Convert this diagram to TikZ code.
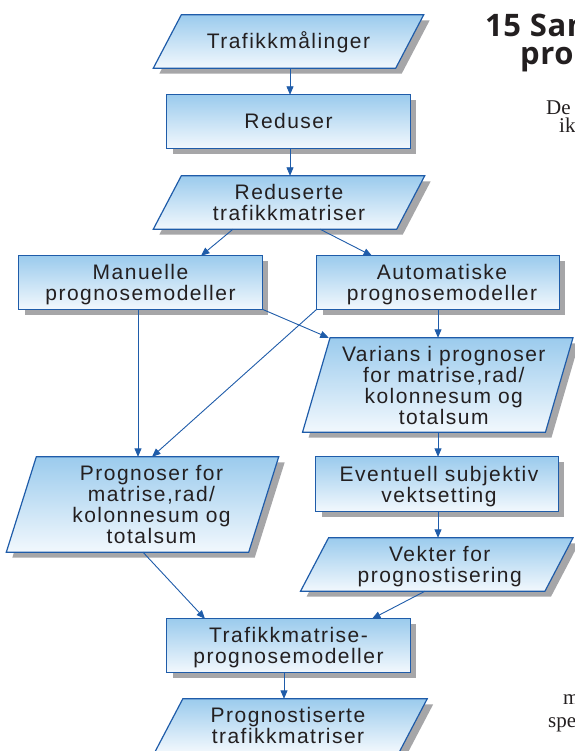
\documentclass[tikz,border=0pt]{standalone}
\usepackage{fontspec}
\setmainfont{Liberation Sans}[LetterSpace=7,WordSpace=1.25]
\newfontfamily\headfont{Open Sans}[LetterSpace=2]
\newfontfamily\pagefont{Liberation Serif}
\usetikzlibrary{arrows.meta}
\pgfdeclarelayer{background}
\pgfsetlayers{background,main}

\definecolor{boxline}{RGB}{31,92,169}
\definecolor{boxtop}{RGB}{155,203,237}
\definecolor{boxbottom}{RGB}{242,248,253}
\definecolor{boxshade}{RGB}{166,166,168}
\definecolor{ink}{RGB}{35,31,32}

\tikzset{
  flowlabel/.style={inner sep=0pt, text width=240pt, align=center, text=ink,
    font=\fontsize{21}{21}\selectfont, text height=15pt, text depth=0pt},
  boxframe/.style={draw=boxline, line width=1.2pt, top color=boxtop, bottom color=boxbottom},
  boxshadow/.style={fill=boxshade},
  flowarrow/.style={draw=boxline, line width=0.9pt, -{Triangle[length=8.5pt,width=7pt]}},
  headtext/.style={anchor=base west, inner sep=0pt, text=ink,
    font=\headfont\bfseries\fontsize{31}{31}\selectfont},
  pagetext/.style={anchor=base west, inner sep=0pt, text=ink,
    font=\pagefont\fontsize{21}{21}\selectfont},
}

% #1 name, #2 slant (0 = rectangle), #3 cx, #4 cy, #5 mean width, #6 height,
% #7 extra label options, #8 label
\newcommand\flowbox[8]{%
  \node[minimum width=#5, minimum height=#6, inner sep=0pt] (#1) at (#3,#4) {};
  \begin{pgfonlayer}{background}
    \path[boxshadow]
      ([shift={(#2/2+6,5.5)}]#1.north west) -- ([shift={(#2/2+6,5.5)}]#1.north east)
      -- ([shift={(-#2/2+6,5.5)}]#1.south east) -- ([shift={(-#2/2+6,5.5)}]#1.south west) -- cycle;
    \path[boxframe]
      ([shift={(#2/2,0)}]#1.north west) -- ([shift={(#2/2,0)}]#1.north east)
      -- ([shift={(-#2/2,0)}]#1.south east) -- ([shift={(-#2/2,0)}]#1.south west) -- cycle;
  \end{pgfonlayer}
  \node[flowlabel, #7] (#1-text) at (#1.center) {#8};
}

\begin{document}
\begin{tikzpicture}[x=1pt, y=-1pt]
  \useasboundingbox (0,0) rectangle (574,751);

  % boxes of the flow
  \flowbox{tm}{28}{288.5}{41.5}{242}{53}{}{Trafikkmålinger}
  \flowbox{red}{0}{288.5}{121.5}{243}{53}{}{Reduser}
  \flowbox{rtm}{28}{289}{202.5}{243}{53}{text depth=21pt}{Reduserte\\trafikkmatriser}
  \flowbox{man}{0}{140.5}{282.5}{243}{53}{text depth=21pt}{Manuelle\\prognosemodeller}
  \flowbox{aut}{0}{438}{282.5}{242}{53}{text depth=21pt, xshift=4}{Automatiske\\prognosemodeller}
  \flowbox{var}{27.5}{437.75}{385}{242.5}{94}{text depth=63pt, xshift=6}{Varians i prognoser\\for matrise,rad/\\kolonnesum og\\totalsum}
  \flowbox{evt}{0}{437}{484}{242}{54}{text depth=21pt, xshift=2}{Eventuell subjektiv\\vektsetting}
  \flowbox{vek}{28}{436.75}{564.5}{244}{53}{text depth=21pt, xshift=3}{Vekter for\\prognostisering}
  \flowbox{prg}{30}{142.5}{504.5}{242}{95}{text depth=63pt, xshift=9}{Prognoser for\\matrise,rad/\\kolonnesum og\\totalsum}
  \flowbox{tmp}{0}{288.5}{645.5}{243}{53}{text depth=21pt}{Trafikkmatrise-\\prognosemodeller}
  \flowbox{ptm}{28}{291}{725.5}{244}{53}{text depth=21pt, xshift=-3}{Prognostiserte\\trafikkmatriser}

  % connectors
  \draw[flowarrow] ([xshift=1.5]tm.south) -- ([xshift=1.5]red.north);
  \draw[flowarrow] ([xshift=1.5]red.south) -- ([xshift=1.5]red.south |- rtm.north);
  \draw[flowarrow] ([xshift=-56]rtm.south) -- ([xshift=60.5]man.north);
  \draw[flowarrow] ([xshift=31]rtm.south) -- ([xshift=-66]aut.north);
  \draw[flowarrow] ([xshift=-2.5]man.south) -- ([xshift=-2.5]man.south |- prg.north);
  \draw[flowarrow] (man.south east) -- ([xshift=-109]var.north);
  \draw[flowarrow] (aut.south west) -- ([xshift=9.5]prg.north);
  \draw[flowarrow] (aut.south) -- (aut.south |- var.north);
  \draw[flowarrow] ([xshift=1]evt.north |- var.south) -- ([xshift=1]evt.north);
  \draw[flowarrow] ([xshift=1]evt.south) -- ([xshift=1]evt.south |- vek.north);
  \draw[flowarrow] ([xshift=0.5]prg.south) -- ([xshift=-83.5]tmp.north);
  \draw[flowarrow] ([xshift=-11.75]vek.south) -- ([xshift=83.5]tmp.north);
  \draw[flowarrow] ([xshift=-4.5]tmp.south) -- ([xshift=-4.5]tmp.south |- ptm.north);

  % page text beside the figure
  \node[headtext] (head1) at (485,37) {15 Sam};
  \node[headtext] (head2) at (520,65) {pro};
  \node[pagetext] (body1) at (546,115) {De};
  \node[pagetext] (body2) at (559,133) {ik};
  \node[pagetext] (body3) at (563,704) {m};
  \node[pagetext] (body4) at (548,727) {spe};
\end{tikzpicture}
\end{document}
